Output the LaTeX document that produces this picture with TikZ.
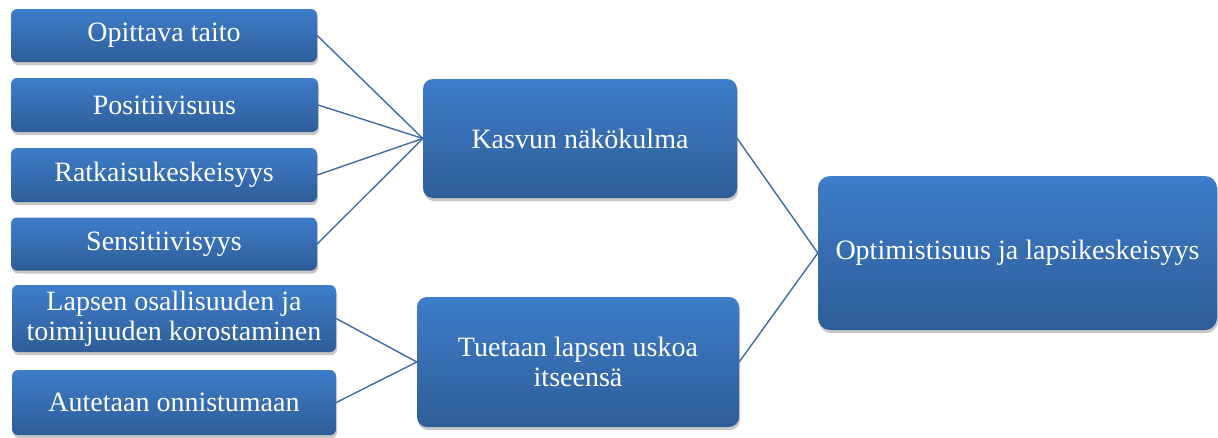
\documentclass[tikz,border=0pt]{standalone}
\usepackage{fontspec}
\setmainfont{Liberation Serif}
\usetikzlibrary{shadows}
\definecolor{boxtop}{HTML}{3E7DCA}
\definecolor{boxbot}{HTML}{2E5D98}
\definecolor{linkcol}{HTML}{3F6BA3}
\begin{document}
\begin{tikzpicture}[x=1pt,y=-1pt,
  box/.style={rectangle, rounded corners=#1, top color=boxtop, bottom color=boxbot,
    draw=none, text=white, inner sep=0pt, align=center,
    font=\fontsize{28}{30}\selectfont,
    drop shadow={shadow xshift=1pt, shadow yshift=-3pt, opacity=0.22, fill=black}},
  box/.default=6pt,
  link/.style={draw=linkcol, line width=1.4pt}]
\useasboundingbox (0,0) rectangle (1218,437);
% small boxes
\node[box, minimum width=306pt, minimum height=53pt] (a) at (164,35.5) {Opittava taito};
\node[box, minimum width=307pt, minimum height=54pt] (b) at (164.5,105) {Positiivisuus};
\node[box, minimum width=306pt, minimum height=54pt] (c) at (164,175) {Ratkaisukeskeisyys};
\node[box, minimum width=306pt, minimum height=53pt] (d) at (164,244) {Sensitiivisyys};
\node[box, minimum width=324pt, minimum height=67pt] (e) at (174,318.5) {Lapsen osallisuuden ja\\toimijuuden korostaminen};
\node[box, minimum width=324pt, minimum height=65pt] (f) at (174,402.5) {Autetaan onnistumaan};
% middle boxes
\node[box=10pt, minimum width=314pt, minimum height=119pt] (k) at (580,138.5) {Kasvun näkökulma};
\node[box=10pt, minimum width=322pt, minimum height=130pt] (t) at (578,362) {Tuetaan lapsen uskoa\\itseensä};
% right box
\node[box=12pt, minimum width=399pt, minimum height=154pt] (o) at (1017.5,253) {Optimistisuus ja lapsikeskeisyys};
% connectors
\draw[link] (a.east) -- (k.west);
\draw[link] (b.east) -- (k.west);
\draw[link] (c.east) -- (k.west);
\draw[link] (d.east) -- (k.west);
\draw[link] (e.east) -- (t.west);
\draw[link] (f.east) -- (t.west);
\draw[link] (k.east) -- (o.west);
\draw[link] (t.east) -- (o.west);
\end{tikzpicture}
\end{document}
